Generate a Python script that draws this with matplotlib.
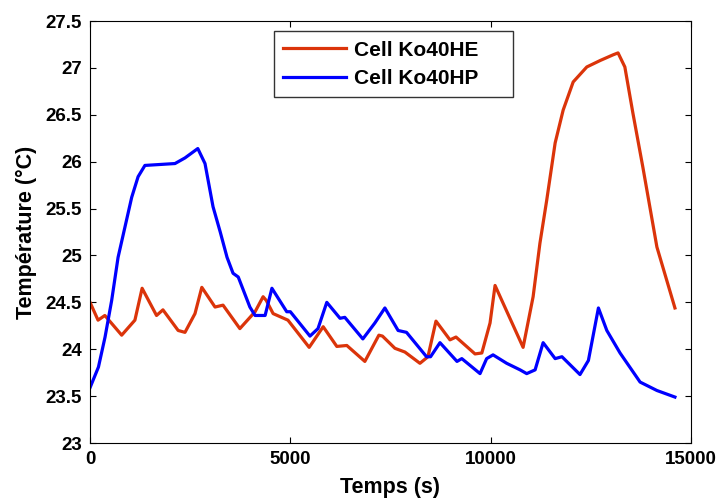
import matplotlib
matplotlib.use('Agg')
import matplotlib.pyplot as plt

# Cell Ko40HE (rouge)
t_he = [0, 200, 370, 790, 1120, 1300, 1660, 1820, 2200, 2370, 2620, 2790,
        3120, 3320, 3740, 4120, 4320, 4400, 4570, 4940, 5470, 5820, 6160,
        6410, 6860, 7210, 7300, 7610, 7860, 8235, 8435, 8635, 8985, 9135,
        9610, 9780, 9985, 10110, 10810, 11060, 11230, 11400, 11610, 11810,
        12060, 12400, 12740, 13060, 13180, 13350, 13550, 13800, 14150, 14600]
T_he = [24.50, 24.31, 24.36, 24.15, 24.31, 24.65, 24.36, 24.42, 24.20, 24.18,
        24.38, 24.66, 24.45, 24.47, 24.22, 24.40, 24.56, 24.52, 24.38, 24.31,
        24.02, 24.24, 24.03, 24.04, 23.87, 24.15, 24.14, 24.01, 23.97, 23.85,
        23.92, 24.30, 24.10, 24.13, 23.95, 23.96, 24.28, 24.68, 24.02, 24.56,
        25.13, 25.59, 26.20, 26.55, 26.85, 27.01, 27.08, 27.14, 27.16, 27.01,
        26.52, 25.94, 25.09, 24.44]

# Cell Ko40HP (bleu)
t_hp = [0, 210, 375, 540, 700, 870, 1040, 1200, 1370, 2120, 2370, 2690,
        2870, 3070, 3250, 3420, 3570, 3700, 3990, 4120, 4370, 4540, 4910,
        5000, 5490, 5690, 5910, 6240, 6360, 6810, 7110, 7360, 7690, 7900,
        8400, 8500, 8735, 9160, 9280, 9735, 9900, 10060, 10400, 10735, 10900,
        11110, 11310, 11610, 11780, 12230, 12440, 12690, 12900, 13230, 13730,
        14150, 14600]
T_hp = [23.59, 23.81, 24.13, 24.52, 24.98, 25.30, 25.62, 25.84, 25.96, 25.98,
        26.04, 26.14, 25.98, 25.52, 25.25, 24.98, 24.81, 24.77, 24.45, 24.36,
        24.36, 24.65, 24.40, 24.40, 24.14, 24.22, 24.50, 24.33, 24.34, 24.11,
        24.28, 24.44, 24.20, 24.18, 23.92, 23.92, 24.07, 23.87, 23.90, 23.74,
        23.90, 23.94, 23.85, 23.78, 23.74, 23.78, 24.07, 23.90, 23.92, 23.73,
        23.88, 24.44, 24.20, 23.96, 23.65, 23.56, 23.49]

xticks = [0, 5000, 10000, 15000]
yticks = [23, 23.5, 24, 24.5, 25, 25.5, 26, 26.5, 27, 27.5]

plt.rcParams['font.family'] = ['Liberation Sans', 'DejaVu Sans']
plt.rcParams['font.weight'] = 'bold'

fig = plt.figure(figsize=(7.22, 4.99), dpi=100)
ax = fig.add_axes([0.1247, 0.1122, 0.8323, 0.8457])

ax.plot(t_he, T_he, color='#DB340A', lw=2.3, label='Cell Ko40HE')
ax.plot(t_hp, T_hp, color='#0000FF', lw=2.3, label='Cell Ko40HP')

ax.set_xlim(0, 15000)
ax.set_ylim(23, 27.5)
ax.set_xticks(xticks)
ax.set_yticks(yticks)
ax.set_yticklabels(['%g' % v for v in yticks])
ax.tick_params(direction='in', top=True, right=True, length=4, width=0.8,
               labelsize=13.5, pad=6)
for lab in ax.get_xticklabels() + ax.get_yticklabels():
    lab.set_fontweight('bold')

ax.set_xlabel('Temps (s)', fontsize=15.5, fontweight='bold', labelpad=6)
ax.set_ylabel('Température (°C)', fontsize=15.5, fontweight='bold', labelpad=6)

leg = ax.legend(loc='upper left', bbox_to_anchor=(0.306, 0.5, 0.398, 0.476),
                mode='expand', borderaxespad=0, fontsize=15,
                frameon=True, fancybox=False, edgecolor='black',
                handlelength=3.0, handletextpad=0.4, borderpad=0.45,
                labelspacing=0.45)
leg.get_frame().set_linewidth(1.0)
for txt in leg.get_texts():
    txt.set_fontweight('bold')

fig.savefig('out.png', dpi=100)
